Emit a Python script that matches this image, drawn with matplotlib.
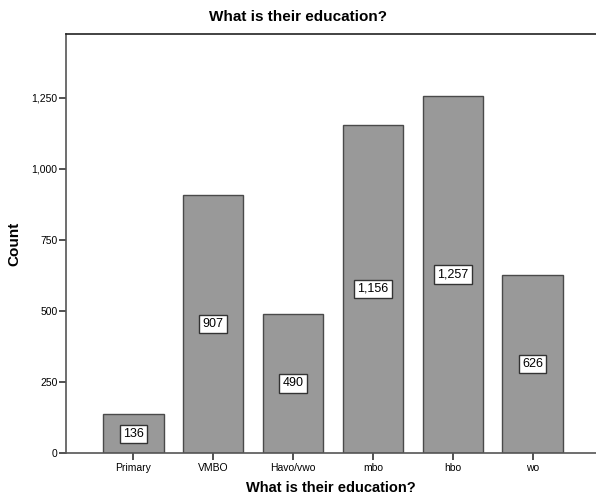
import matplotlib
matplotlib.use("Agg")
import matplotlib.pyplot as plt
from matplotlib.ticker import FuncFormatter

categories = ["Primary", "VMBO", "Havo/vwo", "mbo", "hbo", "wo"]
counts = [136, 907, 490, 1156, 1257, 626]
yticks = [0, 250, 500, 750, 1000, 1250]

plt.rcParams["font.family"] = ["Liberation Sans", "DejaVu Sans"]

fig = plt.figure(figsize=(5.96, 4.97), dpi=100)
ax = fig.add_axes([66 / 596, 1 - 453 / 497, 1 - 66 / 596, (453 - 34) / 497])

x = list(range(len(categories)))
ax.bar(x, counts, width=0.76, color="#999999", edgecolor="#4a4a4a", linewidth=1.0)

for xi, v in zip(x, counts):
    ax.text(xi, v / 2, f"{v:,}", ha="center", va="center", fontsize=9,
            bbox=dict(boxstyle="square,pad=0.25", fc="white", ec="#333333", lw=1.0))

ax.set_xlim(-0.84, 5.79)
ax.set_ylim(0, 1475)
ax.set_xticks(x)
ax.set_xticklabels(categories, fontsize=7.5)
ax.set_yticks(yticks)
ax.yaxis.set_major_formatter(FuncFormatter(lambda v, p: f"{int(v):,}"))
ax.tick_params(axis="y", labelsize=7.5, length=5, width=1.2, color="#333333", pad=1)
ax.tick_params(axis="x", labelsize=7.5, length=5, width=1.2, color="#333333", pad=2)

for side in ["left", "bottom"]:
    ax.spines[side].set_color("#555555")
    ax.spines[side].set_linewidth(1.2)
ax.spines["top"].set_color("#222222")
ax.spines["top"].set_linewidth(1.2)
ax.spines["right"].set_visible(False)

ax.set_ylabel("Count", fontsize=11, fontweight="bold")
ax.yaxis.set_label_coords(-(66 - 21) / (596 - 66), 0.5 - (244 - 243.5) / 419)
ax.set_xlabel("What is their education?", fontsize=10.5, fontweight="bold", labelpad=6)
fig.text(0.5, 1 - 17 / 497, "What is their education?", ha="center", va="center",
         fontsize=11, fontweight="bold")

fig.savefig("out.png", dpi=100)
